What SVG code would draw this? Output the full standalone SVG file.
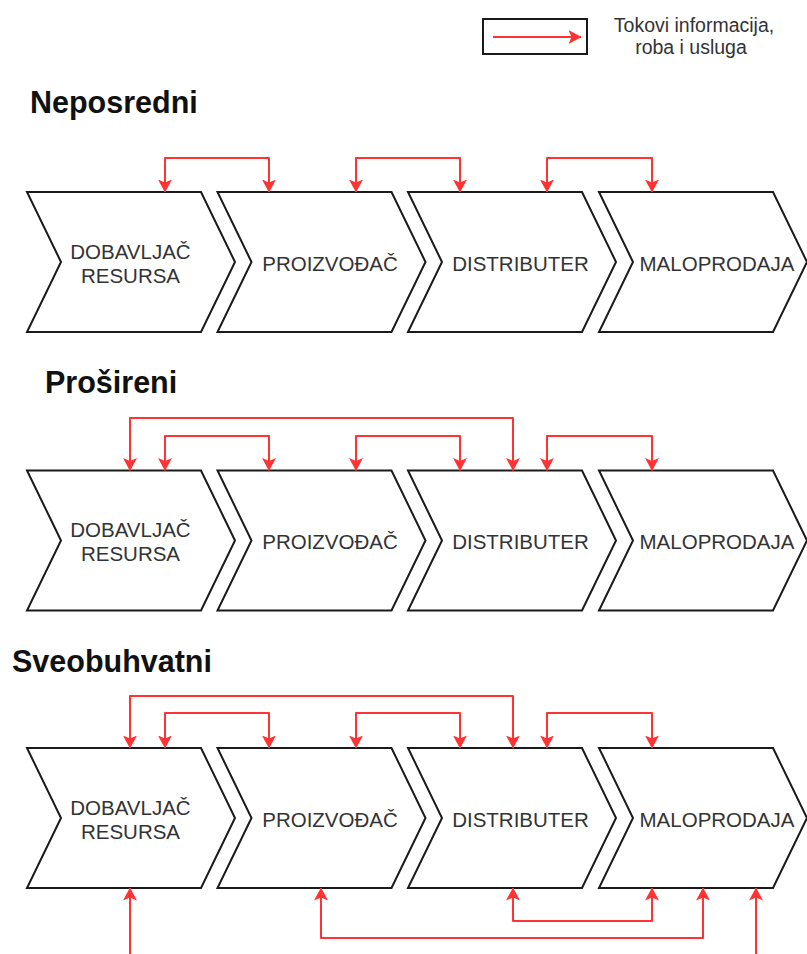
<svg xmlns="http://www.w3.org/2000/svg" xmlns:xlink="http://www.w3.org/1999/xlink" width="807" height="954" viewBox="0 0 807 954">
  <style>
    .chev { fill: #ffffff; stroke: #1a1a1a; stroke-width: 2; stroke-linejoin: miter; }
    .lbl { font-family: "Liberation Sans", Arial, sans-serif; font-size: 20.5px; fill: #333333; text-anchor: middle; }
    .head { font-family: "Liberation Sans", Arial, sans-serif; font-size: 30.5px; font-weight: bold; fill: #111111; }
    .leg { font-family: "Liberation Sans", Arial, sans-serif; font-size: 19.5px; fill: #333333; text-anchor: middle; }
    .flow { fill: none; stroke: #ff3333; stroke-width: 2; stroke-linejoin: round; }
    .both { marker-start: url(#ah); marker-end: url(#ah); }
    .one { marker-end: url(#ah); }
  </style>
  <defs>
    <marker id="ah" viewBox="0 0 13 15" refX="12.5" refY="7.5" markerWidth="13" markerHeight="15" markerUnits="userSpaceOnUse" orient="auto-start-reverse">
      <path d="M0,0.5 L13,7.5 L0,14.5 L3,7.5 Z" fill="#ff3333"/>
    </marker>
    <polygon id="chev" points="0,0 174,0 208,70 174,140 0,140 34,70"/>
  </defs>
  <rect width="807" height="954" fill="#ffffff"/>

  <!-- Legend -->
  <g id="legend">
    <rect x="483" y="19" width="104" height="35" fill="#ffffff" stroke="#1a1a1a" stroke-width="2"/>
    <path class="flow one" d="M493,37 H581"/>
    <text class="leg" x="694" y="32">Tokovi informacija,</text>
    <text class="leg" x="691" y="54">roba i usluga</text>
  </g>

  <!-- Headings -->
  <text id="h-neposredni" class="head" x="30" y="113">Neposredni</text>
  <text id="h-prosireni" class="head" x="45" y="393">Prošireni</text>
  <text id="h-sveobuhvatni" class="head" x="12" y="672">Sveobuhvatni</text>

  <!-- Row 1 -->
  <g id="row1" transform="translate(0,192)">
    <g id="r1-dobavljac"><use xlink:href="#chev" class="chev" x="27" y="0"/><text class="lbl" x="130.5" y="66.5">DOBAVLJAČ</text><text class="lbl" x="130.5" y="90.5">RESURSA</text></g>
    <g id="r1-proizvodjac"><use xlink:href="#chev" class="chev" x="217.5" y="0"/><text class="lbl" x="330" y="78.5">PROIZVOĐAČ</text></g>
    <g id="r1-distributer"><use xlink:href="#chev" class="chev" x="408" y="0"/><text class="lbl" x="520.5" y="78.5">DISTRIBUTER</text></g>
    <g id="r1-maloprodaja"><use xlink:href="#chev" class="chev" x="599" y="0"/><text class="lbl" x="717" y="78.5">MALOPRODAJA</text></g>
  </g>

  <!-- Row 2 -->
  <g id="row2" transform="translate(0,470.5)">
    <g id="r2-dobavljac"><use xlink:href="#chev" class="chev" x="27" y="0"/><text class="lbl" x="130.5" y="66.5">DOBAVLJAČ</text><text class="lbl" x="130.5" y="90.5">RESURSA</text></g>
    <g id="r2-proizvodjac"><use xlink:href="#chev" class="chev" x="217.5" y="0"/><text class="lbl" x="330" y="78.5">PROIZVOĐAČ</text></g>
    <g id="r2-distributer"><use xlink:href="#chev" class="chev" x="408" y="0"/><text class="lbl" x="520.5" y="78.5">DISTRIBUTER</text></g>
    <g id="r2-maloprodaja"><use xlink:href="#chev" class="chev" x="599" y="0"/><text class="lbl" x="717" y="78.5">MALOPRODAJA</text></g>
  </g>

  <!-- Row 3 -->
  <g id="row3" transform="translate(0,748)">
    <g id="r3-dobavljac"><use xlink:href="#chev" class="chev" x="27" y="0"/><text class="lbl" x="130.5" y="66.5">DOBAVLJAČ</text><text class="lbl" x="130.5" y="90.5">RESURSA</text></g>
    <g id="r3-proizvodjac"><use xlink:href="#chev" class="chev" x="217.5" y="0"/><text class="lbl" x="330" y="78.5">PROIZVOĐAČ</text></g>
    <g id="r3-distributer"><use xlink:href="#chev" class="chev" x="408" y="0"/><text class="lbl" x="520.5" y="78.5">DISTRIBUTER</text></g>
    <g id="r3-maloprodaja"><use xlink:href="#chev" class="chev" x="599" y="0"/><text class="lbl" x="717" y="78.5">MALOPRODAJA</text></g>
  </g>

  <!-- Connectors -->
  <g id="connectors">
    <!-- Row 1 -->
    <path class="flow both" d="M165,192 V158 H269 V192"/>
    <path class="flow both" d="M356,192 V158 H460 V192"/>
    <path class="flow both" d="M547,192 V158 H652 V192"/>
    <!-- Row 2 -->
    <path class="flow both" d="M130,470.5 V418 H513 V470.5"/>
    <path class="flow both" d="M165,470.5 V436 H269 V470.5"/>
    <path class="flow both" d="M356,470.5 V436 H460 V470.5"/>
    <path class="flow both" d="M547,470.5 V436 H652 V470.5"/>
    <!-- Row 3 top -->
    <path class="flow both" d="M130,748 V696 H513 V748"/>
    <path class="flow both" d="M165,748 V713 H269 V748"/>
    <path class="flow both" d="M356,748 V713 H460 V748"/>
    <path class="flow both" d="M547,748 V713 H652 V748"/>
    <!-- Row 3 bottom -->
    <path class="flow both" d="M321,888 V938 H703 V888"/>
    <path class="flow both" d="M513,888 V921 H652 V888"/>
    <path class="flow one" d="M130,954 V888"/>
    <path class="flow one" d="M756,954 V888"/>
  </g>
</svg>
